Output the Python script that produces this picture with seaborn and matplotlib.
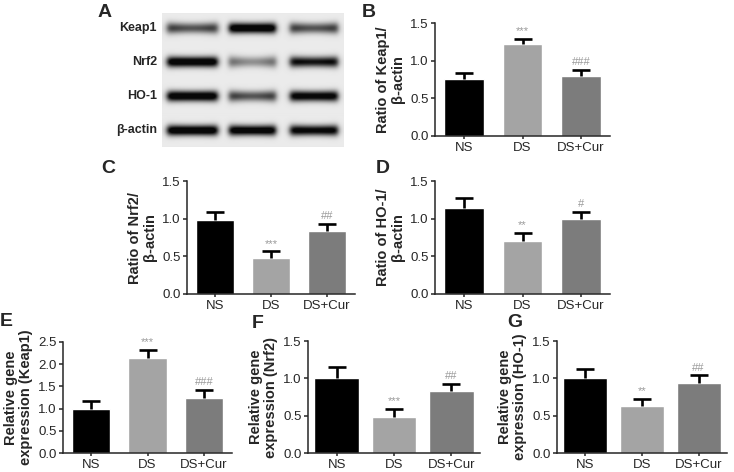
import numpy as np
import pandas as pd
import matplotlib
matplotlib.use("Agg")
import matplotlib.pyplot as plt
import seaborn as sns

# groups and colours
groups = ["NS", "DS", "DS+Cur"]
bar_colors = ["#000000", "#a4a4a4", "#7c7c7c"]

# western blot quantification (mean, SEM)
keap1_wb = [0.76, 1.22, 0.79]
keap1_wb_err = [0.08, 0.065, 0.09]
nrf2_wb = [0.98, 0.48, 0.835]
nrf2_wb_err = [0.105, 0.085, 0.10]
ho1_wb = [1.135, 0.71, 1.00]
ho1_wb_err = [0.135, 0.105, 0.09]

# qPCR relative expression (mean, SEM)
keap1_mrna = [1.00, 2.13, 1.23]
keap1_mrna_err = [0.165, 0.19, 0.20]
nrf2_mrna = [1.00, 0.478, 0.832]
nrf2_mrna_err = [0.146, 0.11, 0.093]
ho1_mrna = [1.00, 0.633, 0.938]
ho1_mrna_err = [0.124, 0.093, 0.10]

# significance marks
marks_b = ["", "***", "###"]
marks_c = ["", "***", "##"]
marks_d = ["", "**", "#"]
marks_e = ["", "***", "###"]
marks_f = ["", "***", "##"]
marks_g = ["", "**", "##"]

# blot band strength per lane (NS, DS, DS+Cur)
blot_rows = ["Keap1", "Nrf2", "HO-1", "β-actin"]
keap1_band = [0.72, 1.0, 0.72]
nrf2_band = [1.0, 0.55, 0.88]
ho1_band = [1.0, 0.72, 0.95]
actin_band = [1.0, 0.97, 0.93]

sns.set_style("ticks")
plt.rcParams["font.family"] = ["Liberation Sans", "DejaVu Sans"]
plt.rcParams["axes.linewidth"] = 1.1
plt.rcParams["xtick.major.size"] = 2.5
plt.rcParams["ytick.major.size"] = 3
plt.rcParams["xtick.major.width"] = 1.1
plt.rcParams["ytick.major.width"] = 1.1

W, H = 734, 472
fig = plt.figure(figsize=(W / 100, H / 100), dpi=100)


def px_axes(x0, y0, x1, y1):
    return fig.add_axes([x0 / W, 1 - y1 / H, (x1 - x0) / W, (y1 - y0) / H])


def bar_panel(ax, vals, errs, marks, ylabel, ymax, step, width):
    df = pd.DataFrame({"group": groups, "value": vals})
    sns.barplot(data=df, x="group", y="value", hue="group", palette=bar_colors,
                width=width, errorbar=None, legend=False, ax=ax, saturation=1)
    x = np.arange(len(groups))
    tops = np.array(vals) + np.array(errs)
    # upper error bar only, as in the original figure
    ax.vlines(x, vals, tops, color="black", lw=1.9, zorder=3)
    ax.plot(x, tops, ls="none", marker="_", ms=13, mew=1.9, color="black", zorder=3)
    for i, m in enumerate(marks):
        if m:
            ax.annotate(m, (i, tops[i]), xytext=(0, 2),
                        textcoords="offset points", ha="center", va="bottom",
                        fontsize=8, color="#9a9a9a")
    ax.set_ylim(0, ymax)
    ax.set_xlim(-0.5, 2.5)
    ticks = np.arange(0, ymax + 0.01, step)
    ax.set_yticks(ticks)
    ax.set_yticklabels([f"{v:.1f}" for v in ticks])
    ax.set_xlabel("")
    ax.set_ylabel(ylabel, fontsize=10.5, fontweight="bold", linespacing=1.05)
    ax.tick_params(labelsize=9.5, pad=1.5)
    sns.despine(ax=ax)


# panel A: blot image
axA = px_axes(162, 13, 344, 147)
img = np.ones((134, 182))
strips = [(2, 29), (35, 63), (69, 97), (104, 130)]
lanes = [(2, 58), (64, 116), (125, 178)]
bands = [keap1_band, nrf2_band, ho1_band, actin_band]
yy = np.arange(134)[:, None]
xx = np.arange(182)[None, :]
for (s0, s1), strength in zip(strips, bands):
    img[s0:s1, :] = 0.92
    yc = (s0 + s1) / 2
    for (l0, l1), k in zip(lanes, strength):
        u = (xx - (l0 + l1) / 2) / ((l1 - l0) / 2)
        win = 0.5 * (1 - np.tanh((np.abs(u) - 0.9) * 8))
        sig = 3.6 + 1.0 * u ** 2 * (1.3 - k)
        dark = k * (1 - (1 - k) * 0.9 * (1 - u ** 2)) * win
        prof = np.exp(-0.5 * ((yy - yc) / sig) ** 2)
        band = 0.92 - 1.1 * dark * prof
        img = np.minimum(img, np.clip(band, 0.03, 1))
axA.imshow(img, cmap="gray", vmin=0, vmax=1, aspect="auto", interpolation="bilinear")
axA.axis("off")
for (s0, s1), name in zip(strips, blot_rows):
    fig.text(157 / W, 1 - (13 + (s0 + s1) / 2) / H, name, ha="right", va="center",
             fontsize=9, fontweight="bold")

axB = px_axes(435, 23, 610, 136)
bar_panel(axB, keap1_wb, keap1_wb_err, marks_b, "Ratio of Keap1/\nβ-actin", 1.5, 0.5, 0.68)
axC = px_axes(187, 181, 355, 294)
bar_panel(axC, nrf2_wb, nrf2_wb_err, marks_c, "Ratio of Nrf2/\nβ-actin", 1.5, 0.5, 0.68)
axD = px_axes(435, 181, 610, 294)
bar_panel(axD, ho1_wb, ho1_wb_err, marks_d, "Ratio of HO-1/\nβ-actin", 1.5, 0.5, 0.68)
axE = px_axes(63, 342, 232, 453)
bar_panel(axE, keap1_mrna, keap1_mrna_err, marks_e, "Relative gene\nexpression (Keap1)", 2.5, 0.5, 0.68)
axF = px_axes(308, 341, 480, 453)
bar_panel(axF, nrf2_mrna, nrf2_mrna_err, marks_f, "Relative gene\nexpression (Nrf2)", 1.5, 0.5, 0.78)
axG = px_axes(557, 341, 727, 453)
bar_panel(axG, ho1_mrna, ho1_mrna_err, marks_g, "Relative gene\nexpression (HO-1)", 1.5, 0.5, 0.78)

for letter, (px, py) in zip("ABCDEFG", [(98, 4), (362, 4), (101, 160), (376, 160),
                                        (0, 313), (252, 315), (507, 314)]):
    fig.text(px / W, 1 - py / H, letter, fontsize=14, fontweight="bold", va="top", ha="left")

fig.savefig("out.png", dpi=100)
